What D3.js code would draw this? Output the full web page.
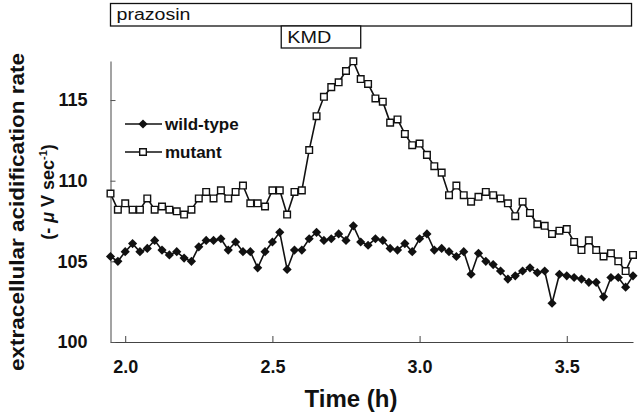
<!DOCTYPE html>
<html>
<head>
<meta charset="utf-8">
<script src="https://cdn.jsdelivr.net/npm/d3@7"></script>
<style>
  html, body { margin: 0; padding: 0; background: #fff; }
  svg { display: block; font-family: "Liberation Sans", Arial, Helvetica, sans-serif; }
</style>
</head>
<body>
<svg id="chart" width="640" height="418"></svg>
<script>
// ---- data ----
const times = [
  1.950, 1.975, 2.000, 2.025, 2.050, 2.075, 2.100, 2.125, 2.150, 2.175,
  2.200, 2.225, 2.250, 2.275, 2.300, 2.325, 2.350, 2.375, 2.400, 2.425,
  2.450, 2.475, 2.500, 2.525, 2.550, 2.575, 2.600, 2.625, 2.650, 2.675,
  2.700, 2.725, 2.750, 2.775, 2.800, 2.825, 2.850, 2.875, 2.900, 2.925,
  2.950, 2.975, 3.000, 3.025, 3.050, 3.075, 3.100, 3.125, 3.150, 3.175,
  3.200, 3.225, 3.250, 3.275, 3.300, 3.325, 3.350, 3.375, 3.400, 3.425,
  3.450, 3.475, 3.500, 3.525, 3.550, 3.575, 3.600, 3.625, 3.650, 3.675,
  3.700, 3.725
];
const mutant = [
  109.2, 108.2, 108.6, 108.2, 108.2, 108.9, 108.2, 108.4, 108.2, 108.1,
  107.9, 108.2, 108.9, 109.3, 108.9, 109.4, 108.9, 109.3, 109.7, 108.6,
  108.6, 108.4, 109.4, 109.4, 107.9, 109.3, 109.4, 111.9, 114.0, 115.2,
  115.8, 116.1, 116.8, 117.4, 116.3, 116.0, 115.1, 114.9, 113.6, 113.8,
  112.9, 112.2, 112.3, 111.6, 110.9, 110.5, 109.1, 109.7, 109.1, 108.7,
  109.0, 109.3, 109.1, 108.9, 108.6, 107.8, 108.7, 108.0, 107.3, 107.2,
  106.7, 106.9, 107.0, 106.2, 105.7, 106.3, 105.7, 105.3, 105.5, 105.0,
  104.4, 105.4
];
const wildType = [
  105.3, 105.0, 105.6, 106.1, 105.6, 105.8, 106.3, 105.7, 105.4, 105.6,
  105.2, 105.0, 105.9, 106.3, 106.3, 106.4, 105.7, 106.2, 105.6, 105.6,
  104.6, 105.6, 106.2, 106.8, 104.5, 105.7, 105.7, 106.4, 106.8, 106.3,
  106.4, 106.7, 106.3, 107.2, 106.2, 106.0, 106.4, 106.3, 105.8, 105.7,
  106.1, 105.6, 106.4, 106.7, 105.7, 105.8, 105.6, 105.3, 105.6, 104.2,
  105.5, 105.0, 104.8, 104.4, 103.9, 104.1, 104.4, 104.6, 104.3, 104.4,
  102.4, 104.2, 104.1, 104.0, 103.9, 103.7, 103.7, 102.8, 104.0, 104.0,
  103.4, 104.1
];
const xTicks = [2.0, 2.5, 3.0, 3.5];
const yTicks = [100, 105, 110, 115];
const seriesNames = ["wild-type", "mutant"];
const treatments = [
  { label: "prazosin", start: 1.95, end: 3.72, row: 0 },
  { label: "KMD", start: 2.53, end: 2.80, row: 1 }
];
const xTitle = "Time (h)";
const yTitle = "extracellular acidification rate";

// ---- layout ----
const svg = d3.select("#chart");
const x = d3.scaleLinear().domain([1.95, 3.725]).range([110.5, 633]);
const y = d3.scaleLinear().domain([100, 117.42]).range([342, 61]);
const FONT = "'Liberation Sans', Arial, sans-serif";

// treatment bars
const rowTop = [3.5, 26], rowH = [22.5, 22];
const labelLen = [74, 44];
treatments.forEach((t, i) => {
  svg.append("rect")
    .attr("x", x(t.start)).attr("y", rowTop[t.row])
    .attr("width", x(t.end) - x(t.start)).attr("height", rowH[t.row])
    .attr("fill", "#fff").attr("stroke", "#111").attr("stroke-width", 1.3);
  svg.append("text")
    .attr("x", x(t.start) + 6).attr("y", rowTop[t.row] + 16.5)
    .attr("font-size", 16).attr("fill", "#111")
    .attr("textLength", labelLen[i]).attr("lengthAdjust", "spacingAndGlyphs")
    .text(t.label);
});

// axes
const xAxis = d3.axisBottom(x).tickValues(xTicks).tickFormat(d3.format(".1f"))
  .tickSizeInner(-6).tickSizeOuter(0).tickPadding(18);
const gx = svg.append("g").attr("transform", "translate(0,342)").call(xAxis);
gx.select(".domain").attr("stroke", "#444").attr("stroke-width", 1.2);
gx.selectAll(".tick line").attr("stroke", "#444");
gx.selectAll("text").attr("font-size", 18).attr("font-weight", "bold")
  .attr("fill", "#111").attr("font-family", FONT);

const yAxis = d3.axisLeft(y).tickValues(yTicks).tickFormat(d3.format("d"))
  .tickSizeInner(-5).tickSizeOuter(0).tickPadding(23);
const gy = svg.append("g").attr("transform", "translate(110.5,0)").call(yAxis);
gy.select(".domain").attr("stroke", "#666").attr("stroke-width", 1.2);
gy.selectAll(".tick line").attr("stroke", "#555");
gy.selectAll("text").attr("font-size", 18).attr("font-weight", "bold")
  .attr("fill", "#111").attr("font-family", FONT);

// axis titles
svg.append("text")
  .attr("x", 351).attr("y", 407)
  .attr("text-anchor", "middle").attr("font-size", 24).attr("font-weight", "bold")
  .attr("fill", "#111")
  .text(xTitle);

svg.append("text")
  .attr("transform", "translate(24,212) rotate(-90)")
  .attr("text-anchor", "middle").attr("font-size", 21).attr("font-weight", "bold")
  .attr("fill", "#111")
  .attr("textLength", 318).attr("lengthAdjust", "spacingAndGlyphs")
  .text(yTitle);

const unit = svg.append("text")
  .attr("transform", "translate(54,192) rotate(-90)")
  .attr("text-anchor", "middle").attr("font-size", 18).attr("font-weight", "bold")
  .attr("fill", "#111");
unit.append("tspan").text("(- ");
unit.append("tspan").attr("font-style", "italic").text("μ");
unit.append("tspan").text(" V sec");
unit.append("tspan").attr("font-size", 11).attr("dy", -7).text("-1");
unit.append("tspan").attr("dy", 7).text(")");

// series
const wtData = times.map((t, i) => ({ t, v: wildType[i] }));
const muData = times.map((t, i) => ({ t, v: mutant[i] }));
const line = d3.line().x(d => x(d.t)).y(d => y(d.v));

const diamond = d3.symbol().type(d3.symbolSquare).size(42)();
const square = d3.symbol().type(d3.symbolSquare).size(44)();

svg.append("path").datum(muData).attr("d", line)
  .attr("fill", "none").attr("stroke", "#111").attr("stroke-width", 1.6);
svg.append("path").datum(wtData).attr("d", line)
  .attr("fill", "none").attr("stroke", "#111").attr("stroke-width", 1.6);

svg.append("g").selectAll("path").data(wtData).join("path")
  .attr("d", diamond)
  .attr("transform", d => `translate(${x(d.t)},${y(d.v)}) rotate(45)`)
  .attr("fill", "#111");

svg.append("g").selectAll("path").data(muData).join("path")
  .attr("d", square)
  .attr("transform", d => `translate(${x(d.t)},${y(d.v)})`)
  .attr("fill", "#fff").attr("stroke", "#111").attr("stroke-width", 1.4);

// legend
const leg = svg.append("g");
const legRows = [124, 152];
seriesNames.forEach((name, i) => {
  const ly = legRows[i];
  leg.append("line").attr("x1", 125).attr("x2", 162).attr("y1", ly).attr("y2", ly)
    .attr("stroke", "#111").attr("stroke-width", 1.6);
  if (i === 0) {
    leg.append("path").attr("d", diamond)
      .attr("transform", `translate(143,${ly}) rotate(45)`).attr("fill", "#111");
  } else {
    leg.append("path").attr("d", square)
      .attr("transform", `translate(143,${ly})`)
      .attr("fill", "#fff").attr("stroke", "#111").attr("stroke-width", 1.4);
  }
  leg.append("text").attr("x", 165).attr("y", ly).attr("dy", "0.35em")
    .attr("font-size", 17).attr("font-weight", "bold").attr("fill", "#111")
    .text(name);
});
</script>
</body>
</html>
